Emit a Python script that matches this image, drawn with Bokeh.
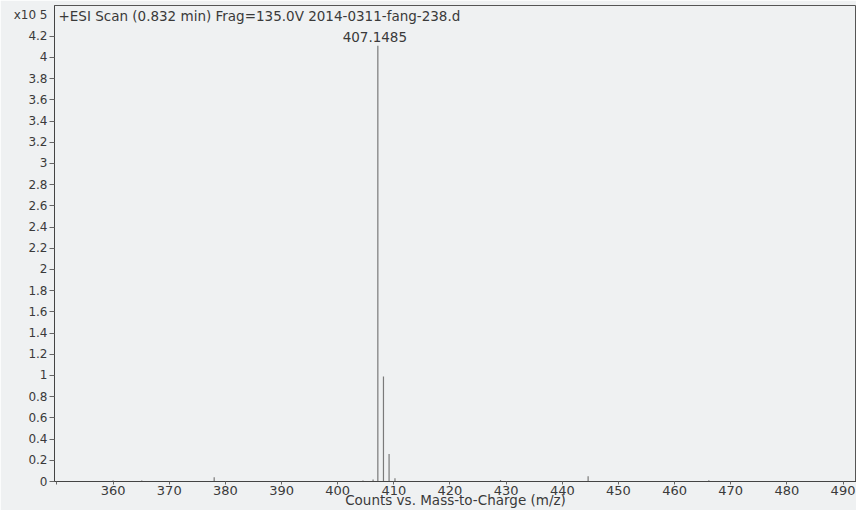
from bokeh.plotting import figure
from bokeh.models import Label, FixedTicker, LinearAxis
from bokeh.embed import file_html
from bokeh.resources import INLINE

# ---- data (intensity in units of x10^5 counts) ----
mz = [360.0, 365.1, 378.0, 404.5, 406.3, 407.1485, 408.15, 409.15, 410.2, 429.0, 444.6, 466.1]
counts = [0.01, 0.01, 0.04, 0.01, 0.02, 4.11, 0.99, 0.26, 0.03, 0.015, 0.05, 0.012]
x_ticks = [350, 360, 370, 380, 390, 400, 410, 420, 430, 440, 450, 460, 470, 480, 490]
y_ticks = [round(i * 0.2, 1) for i in range(22)]
scale_pos = 4.4
scale_text = "x10 5"
title_text = "+ESI Scan (0.832 min) Frag=135.0V 2014-0311-fang-238.d"
peak_label = "407.1485"
x_title = "Counts vs. Mass-to-Charge (m/z)"

FONT = "DejaVu Sans"
TXT = "#3a3a3a"
BG = "#eff1f2"

p = figure(width=856, height=510, x_range=(349.56, 492.4), y_range=(0, 4.49),
           output_backend="svg", toolbar_location=None,
           min_border_left=54, min_border_right=0, min_border_top=5, min_border_bottom=21)
p.background_fill_color = BG
p.border_fill_color = BG
p.outline_line_color = "#555555"
p.outline_line_width = 1
p.grid.visible = False

p.segment(x0=mz, y0=[0] * len(mz), x1=mz, y1=counts, line_color="#7a7a7a", line_width=1.2)

# x axis
xa = p.xaxis[0]
xa.ticker = FixedTicker(ticks=x_ticks)
xa.major_label_overrides = {350: ""}
xa.axis_line_color = "#444444"
xa.major_tick_line_color = "#666666"
xa.minor_tick_line_color = None
xa.major_tick_in = 0
xa.major_tick_out = 3
xa.major_label_standoff = 1
xa.major_label_text_font = FONT
xa.major_label_text_font_size = "13px"
xa.major_label_text_color = TXT
xa.axis_label = x_title
xa.axis_label_text_font = FONT
xa.axis_label_text_font_size = "13.5px"
xa.axis_label_text_font_style = "normal"
xa.axis_label_text_color = TXT
xa.axis_label_standoff = -6

# inner y axis: tick marks only
ya = p.yaxis[0]
ya.ticker = FixedTicker(ticks=y_ticks)
ya.axis_line_color = "#444444"
ya.major_tick_line_color = "#666666"
ya.minor_tick_line_color = None
ya.major_tick_in = 0
ya.major_tick_out = 5
ya.major_label_standoff = 0
ya.major_label_text_font_size = "0px"
ya.major_label_text_alpha = 0

# outer y axis: labels (plus the x10^5 scale note at the top)
lab = {t: (str(int(t)) if t == int(t) else str(t)) for t in y_ticks}
lab[scale_pos] = scale_text
ya2 = LinearAxis(ticker=FixedTicker(ticks=y_ticks + [scale_pos]), major_label_overrides=lab)
ya2.axis_line_color = None
ya2.major_tick_line_color = None
ya2.minor_tick_line_color = None
ya2.major_tick_in = 0
ya2.major_tick_out = 0
ya2.major_label_standoff = 2
ya2.major_label_text_font = FONT
ya2.major_label_text_font_size = "12px"
ya2.major_label_text_color = TXT
p.add_layout(ya2, "left")

# annotations (screen units are relative to the plot frame)
p.add_layout(Label(x=4, y=466, x_units="screen", y_units="screen", text=title_text,
                   text_font=FONT, text_font_size="13.5px", text_color=TXT,
                   text_baseline="middle", text_align="left"))
p.add_layout(Label(x=mz[5], y=counts[5], y_offset=4, x_offset=-3, text=peak_label,
                   text_font=FONT, text_font_size="13.5px", text_color=TXT,
                   text_baseline="bottom", text_align="center"))

open("out.html", "w").write(file_html(p, INLINE))
